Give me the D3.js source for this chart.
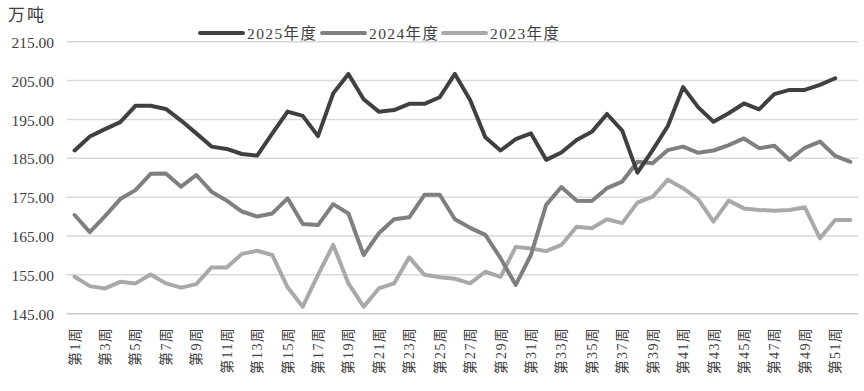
<!DOCTYPE html>
<html><head><meta charset="utf-8">
<script src="https://cdn.jsdelivr.net/npm/d3@7"></script>
<style>body{margin:0;background:#fff}</style>
</head><body><svg id="c" width="864" height="391"></svg>
<script>
const weeks = d3.range(1, 53).map(i => "第" + i + "周");
const yTicks = [145, 155, 165, 175, 185, 195, 205, 215];
const s2025 = [187.0,190.6,192.5,194.3,198.5,198.5,197.7,194.7,191.4,188.0,187.4,186.1,185.7,191.4,197.0,195.9,190.7,201.7,206.7,200.2,197.0,197.4,199.0,199.0,200.7,206.7,200.0,190.4,187.0,189.9,191.4,184.6,186.5,189.7,191.8,196.4,192.1,181.3,187.1,193.3,203.3,198.1,194.4,196.6,199.1,197.6,201.5,202.6,202.6,203.9,205.6];
const s2024 = [170.4,166.0,170.1,174.5,176.8,181.0,181.1,177.7,180.7,176.4,174.1,171.3,170.0,170.8,174.7,168.1,167.8,173.2,170.8,160.1,165.7,169.3,169.8,175.6,175.6,169.3,167.1,165.3,159.3,152.4,160.1,173.0,177.6,174.1,174.0,177.3,179.0,184.1,183.7,187.1,188.0,186.4,187.0,188.4,190.1,187.6,188.2,184.6,187.7,189.3,185.6,184.1];
const s2023 = [154.5,152.1,151.5,153.2,152.8,155.1,152.8,151.7,152.6,156.9,156.9,160.4,161.2,160.1,151.8,146.8,155.0,162.7,152.8,146.8,151.5,152.8,159.5,155.0,154.4,154.0,152.8,155.8,154.5,162.2,161.8,161.1,162.7,167.4,167.0,169.3,168.3,173.6,175.1,179.5,177.3,174.4,168.7,174.1,172.1,171.7,171.5,171.7,172.4,164.4,169.1,169.1];
const seriesNames = ["2025年度", "2024年度", "2023年度"];
const seriesColors = ["#404040", "#7f7f7f", "#a9a9a9"];
const seriesData = [s2025, s2024, s2023];

const svg = d3.select("#c");
const x = d3.scaleBand().domain(weeks).range([67, 858]);
const cx = d => x(d) + x.bandwidth() / 2;
const y = d3.scaleLinear().domain([145, 215]).range([313.7, 41.7]);
const txt = "#404040";
const serif = "'Liberation Serif', 'Noto Sans CJK SC', serif";

// gridlines
svg.append("g").selectAll("line").data(yTicks).join("line")
  .attr("x1", 67).attr("x2", 858)
  .attr("y1", d => y(d)).attr("y2", d => y(d))
  .attr("stroke", d => d === 145 ? "#c8c8c8" : "#d9d9d9").attr("stroke-width", 1.5);

// y axis labels
const yAxis = d3.axisLeft(y).tickValues(yTicks).tickFormat(d3.format(".2f")).tickSize(0).tickPadding(0);
const ga = svg.append("g").attr("transform", "translate(54,0)").call(yAxis);
ga.select(".domain").remove();
ga.selectAll("text").attr("font-family", serif).attr("font-size", 15.5).attr("fill", txt).attr("dy", "0.36em");

// x axis labels
const xAxis = d3.axisBottom(x).tickValues(weeks.filter((d, i) => i % 2 === 0)).tickSize(0).tickPadding(0);
const gx = svg.append("g").attr("transform", "translate(0,327)").call(xAxis);
gx.select(".domain").remove();
gx.selectAll("text").attr("font-family", serif).attr("font-size", 14).attr("fill", txt)
  .attr("letter-spacing", 1.3)
  .attr("text-anchor", "end").attr("transform", "rotate(-90)").attr("x", 0).attr("y", 0).attr("dy", "0.36em");

// lines
const line = d3.line().x((d, i) => cx(weeks[i])).y(d => y(d));
svg.append("g").selectAll("path").data(seriesData.map((d, i) => ({d, i})).reverse()).join("path")
  .attr("d", o => line(o.d)).attr("fill", "none")
  .attr("stroke", o => seriesColors[o.i]).attr("stroke-width", 4)
  .attr("stroke-linejoin", "round").attr("stroke-linecap", "round");

// legend
const legX = [200, 322, 443];
const lg = svg.append("g").selectAll("g").data(seriesNames).join("g")
  .attr("transform", (d, i) => `translate(${legX[i]},33)`);
lg.append("line").attr("x1", 0).attr("x2", 43).attr("stroke", (d, i) => seriesColors[i])
  .attr("stroke-width", 4).attr("stroke-linecap", "round");
lg.append("text").attr("x", 47).attr("dy", "0.36em").attr("font-family", serif)
  .attr("font-size", 15.5).attr("letter-spacing", 1.4).attr("fill", txt).text(d => d);

// unit label
svg.append("text").attr("x", 8).attr("y", 21).attr("font-family", serif)
  .attr("font-size", 17).attr("letter-spacing", 2).attr("fill", txt).text("万吨");
</script></body></html>
